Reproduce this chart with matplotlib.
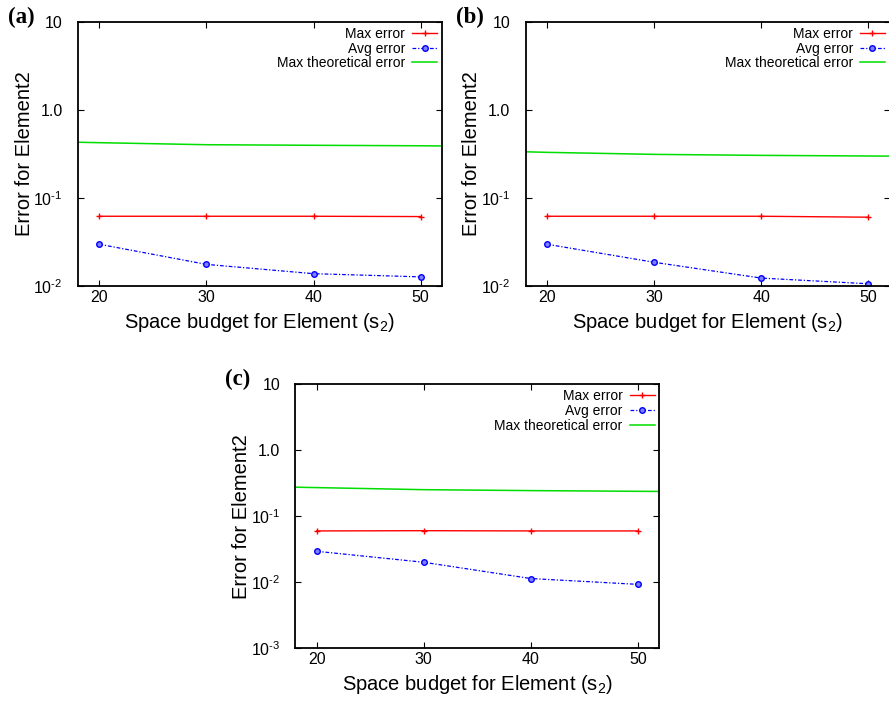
import numpy as np
import matplotlib.pyplot as plt
from matplotlib.ticker import FixedLocator, NullLocator

plt.rcParams['font.family'] = ['Liberation Sans', 'DejaVu Sans']
plt.rcParams['mathtext.fontset'] = 'custom'
plt.rcParams['mathtext.rm'] = 'Liberation Sans'
plt.rcParams['mathtext.it'] = 'Liberation Sans'

budget = [20, 30, 40, 50]
theory_x = [18, 20, 30, 40, 50, 52]

max_err_a = [0.062, 0.062, 0.062, 0.0615]
avg_err_a = [0.0298, 0.0176, 0.0138, 0.0127]
theory_a = [0.43, 0.425, 0.403, 0.397, 0.392, 0.39]

max_err_b = [0.062, 0.062, 0.062, 0.0605]
avg_err_b = [0.0298, 0.0186, 0.0123, 0.0106]
theory_b = [0.335, 0.33, 0.313, 0.305, 0.30, 0.299]

max_err_c = [0.060, 0.0605, 0.060, 0.060]
avg_err_c = [0.0295, 0.0201, 0.0114, 0.0093]
theory_c = [0.276, 0.272, 0.253, 0.245, 0.239, 0.238]

yticks_ab = [0.01, 0.1, 1.0, 10]
ylabels_ab = ['$10^{\u20102}$', '$10^{\u20101}$', '1.0', '10']
yticks_c = [0.001, 0.01, 0.1, 1.0, 10]
ylabels_c = ['$10^{\u20103}$', '$10^{\u20102}$', '$10^{\u20101}$', '1.0', '10']

fig = plt.figure(figsize=(8.89, 7.02), dpi=100)


def panel(rect, tag, max_err, avg_err, theory, yticks, ylabels):
    ax = fig.add_axes(rect)
    ax.plot(budget, max_err, color='#ff0000', lw=1, marker='+', ms=5, label='Max error')
    ax.plot(budget, avg_err, color='#0000ff', lw=0.9, ls=(0, (3, 1.5, 1, 1.5)),
            marker='o', ms=4, mfc='#8080ff', mec='#0000ff', mew=1, label='Avg error')
    ax.plot(theory_x, theory, color='#00dd00', lw=1.1, label='Max theoretical error')
    ax.set_yscale('log')
    ax.set_ylim(yticks[0], yticks[-1])
    ax.set_xlim(18, 52)
    ax.set_xticks(budget)
    ax.yaxis.set_major_locator(FixedLocator(yticks))
    ax.yaxis.set_minor_locator(NullLocator())
    ax.set_yticklabels(ylabels)
    ax.tick_params(direction='in', top=True, right=True, length=4, width=0.8,
                   labelsize=11.5, pad=3)
    ax.tick_params(axis='y', pad=11)
    for s in ax.spines.values():
        s.set_linewidth(1.3)
    ax.set_xlabel('Space budget for Element (s$_2$)', fontsize=14.5, labelpad=4)
    ax.set_ylabel('Error for Element2', fontsize=14.5, va='center')
    ax.yaxis.set_label_coords(-0.148, 0.5)
    ax.legend(loc='upper right', frameon=False, markerfirst=False, numpoints=1,
              fontsize=10, handlelength=1.8, labelspacing=0.05, borderpad=0.05,
              borderaxespad=0.3, handletextpad=0.5)
    x0 = rect[0] * 889
    y1 = (1 - rect[1] - rect[3]) * 702
    fig.text((x0 - 70) / 889, 1 - (y1 - 5) / 702, tag, fontsize=16.5, fontweight='bold',
             family=['Liberation Serif', 'DejaVu Serif'], va='center', ha='left')
    return ax


panel([0.0877, 0.5926, 0.4095, 0.3761], '(a)', max_err_a, avg_err_a, theory_a,
      yticks_ab, ylabels_ab)
panel([0.5913, 0.5926, 0.4095, 0.3761], '(b)', max_err_b, avg_err_b, theory_b,
      yticks_ab, ylabels_ab)
panel([0.3322, 0.0765, 0.4095, 0.3761], '(c)', max_err_c, avg_err_c, theory_c,
      yticks_c, ylabels_c)

fig.savefig('out.png', dpi=100)
